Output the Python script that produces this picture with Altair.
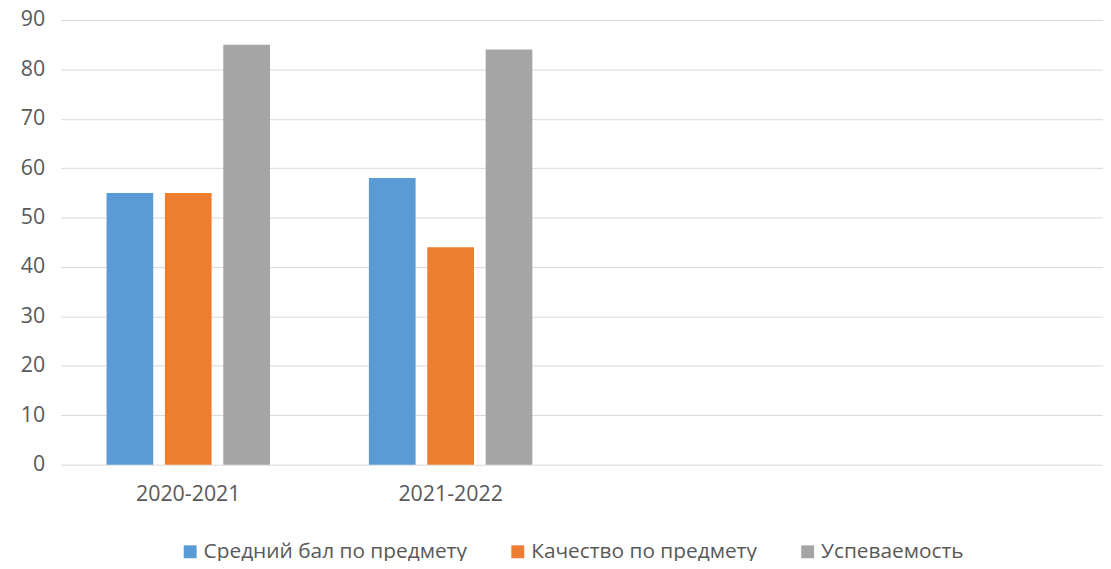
import altair as alt
import pandas as pd

categories = ["2020-2021", "2021-2022", "c3", "c4"]
years = ["2020-2021", "2020-2021", "2020-2021", "2021-2022", "2021-2022", "2021-2022"]
series_names = ["Средний бал по предмету", "Качество по предмету", "Успеваемость"]
series = series_names * 2
values = [55, 55, 85, 58, 44, 84]
colors = ["#5B9BD5", "#ED7D31", "#A5A5A5"]

df = pd.DataFrame({"year": years, "series": series, "value": values})

FONT = "Open Sans"
TXT = "#595959"
FS = 21.5

chart = alt.Chart(df).mark_bar().encode(
    x=alt.X("year:N", sort=categories,
            scale=alt.Scale(domain=categories, paddingInner=0.377, paddingOuter=0.175),
            axis=alt.Axis(title=None, labelAngle=0, domain=False, ticks=False,
                          labelPadding=19, labelFontSize=FS, labelFont=FONT, labelColor=TXT,
                          labelExpr="(datum.label == 'c3' || datum.label == 'c4') ? '' : datum.label")),
    xOffset=alt.XOffset("series:N", sort=series_names,
                        scale=alt.Scale(paddingInner=0.2, paddingOuter=0)),
    y=alt.Y("value:Q", scale=alt.Scale(domain=[0, 90], nice=False),
            axis=alt.Axis(title=None, values=list(range(0, 91, 10)), domain=False, ticks=False,
                          labelPadding=16, labelFontSize=FS, labelFont=FONT, labelColor=TXT,
                          gridColor="#D9D9D9", gridWidth=1)),
    color=alt.Color("series:N", sort=series_names,
                    scale=alt.Scale(domain=series_names, range=colors),
                    legend=alt.Legend(title=None, orient="none", direction="horizontal",
                                      legendX=120, legendY=525, symbolType="square",
                                      symbolSize=169, symbolStrokeWidth=0,
                                      labelFontSize=21, labelFont=FONT, labelColor=TXT,
                                      labelLimit=500, labelOffset=3, columnPadding=40)),
).properties(
    width=1050, height=448,
    autosize=alt.AutoSizeParams(type="none"),
    padding={"left": 53, "top": 10, "right": 0, "bottom": 95},
).configure_view(stroke=None)

chart.save("out.html", embed_options={"renderer": "svg", "actions": False})
